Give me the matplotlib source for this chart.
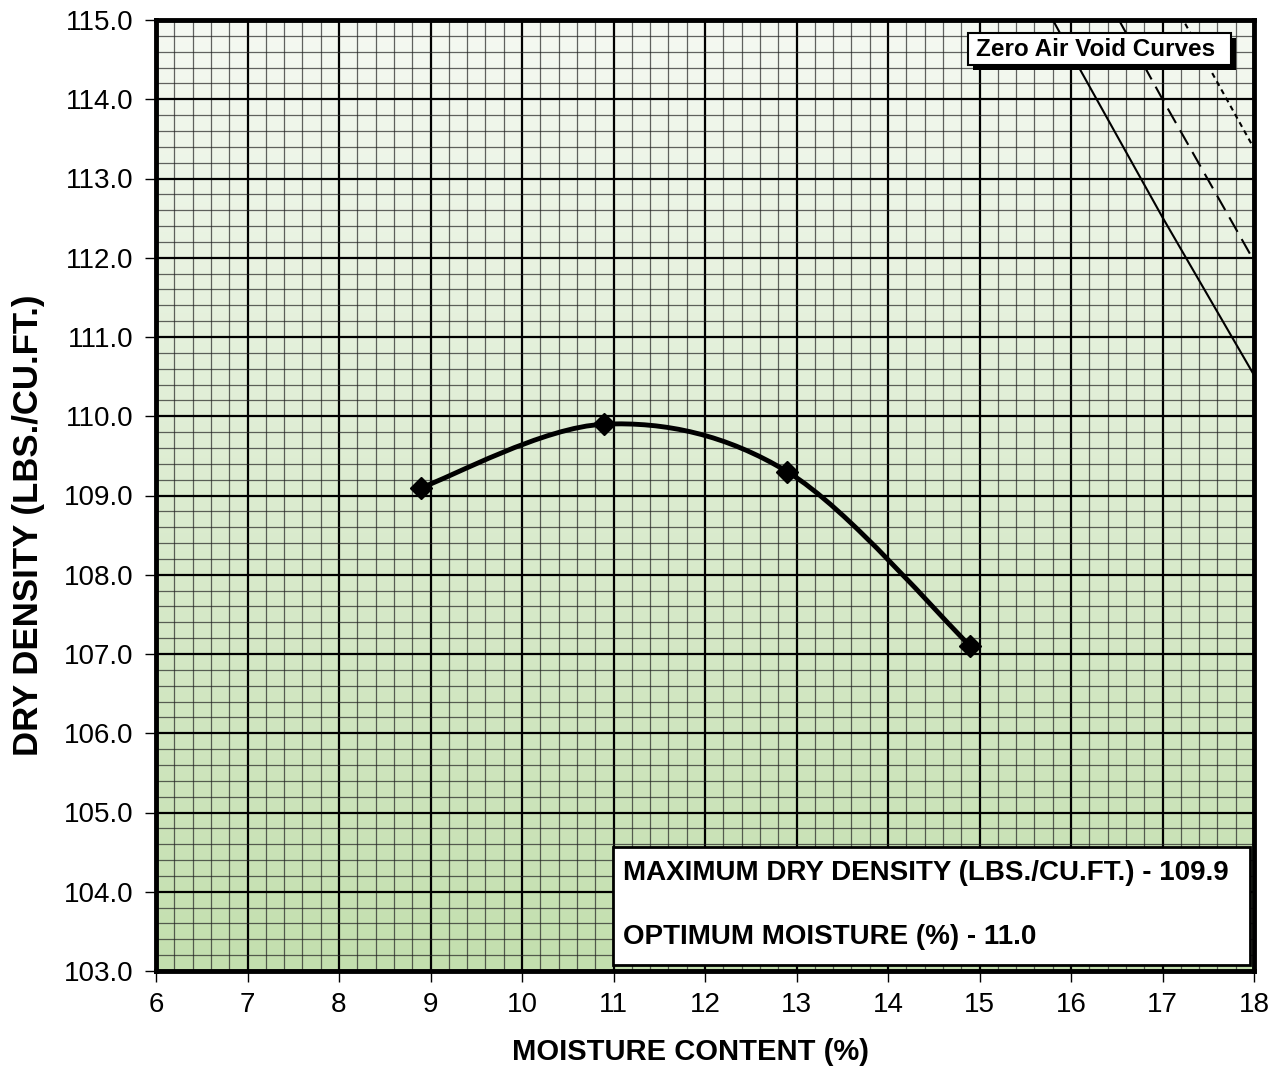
import numpy as np
import matplotlib
matplotlib.use("Agg")
import matplotlib.pyplot as plt
from matplotlib.path import Path
import matplotlib.patches as patches
from matplotlib.colors import LinearSegmentedColormap
from matplotlib.ticker import MultipleLocator, FormatStrFormatter

plt.rcParams['font.family'] = ['Liberation Sans', 'DejaVu Sans']

# test points (moisture %, dry density)
moisture = [8.9, 10.9, 12.9, 14.9]
density = [109.1, 109.9, 109.3, 107.1]

# zero air void curves
zav_solid_x = [15.5, 16.0, 17.0, 18.0]
zav_solid_y = [115.64, 114.58, 112.51, 110.52]
zav_dash_x = [16.0, 16.5, 17.0, 18.0]
zav_dash_y = [116.12, 115.05, 114.00, 111.96]
zav_dot_x = [17.0, 17.5, 18.0]
zav_dot_y = [115.48, 114.42, 113.38]

max_density = "109.9"
opt_moisture = "11.0"

fig = plt.figure(figsize=(12.79, 10.70), dpi=100)
ax = fig.add_axes([156 / 1279, 99 / 1070, 1098 / 1279, 951 / 1070])

ax.set_xlim(6, 18)
ax.set_ylim(103, 115)

# green gradient background
cmap = LinearSegmentedColormap.from_list('bg', ['#c3dfae', '#f5f9f2'])
grad = np.linspace(0, 1, 256).reshape(-1, 1)
ax.imshow(grad, cmap=cmap, aspect='auto', extent=[6, 18, 103, 115],
          origin='lower', zorder=0)

ax.xaxis.set_major_locator(MultipleLocator(1))
ax.yaxis.set_major_locator(MultipleLocator(1))
ax.xaxis.set_minor_locator(MultipleLocator(0.2))
ax.yaxis.set_minor_locator(MultipleLocator(0.2))
ax.yaxis.set_major_formatter(FormatStrFormatter('%.1f'))
ax.grid(which='major', color='black', linewidth=1.6, zorder=1)
ax.grid(which='minor', color='#222222', linewidth=0.9, alpha=0.7, zorder=1)
ax.set_axisbelow(False)
ax.tick_params(which='minor', length=0)
ax.tick_params(which='major', length=8, width=1, labelsize=20, color='black')
ax.tick_params(axis='x', pad=7)
ax.tick_params(axis='y', pad=8)

for s in ax.spines.values():
    s.set_linewidth(3.5)
    s.set_zorder(6)

# smoothed line through points (bezier like spreadsheet smoothing)
pts = np.column_stack([moisture, density])
verts = [tuple(pts[0])]
codes = [Path.MOVETO]
n = len(pts)
for i in range(n - 1):
    p0 = pts[i - 1] if i > 0 else pts[i]
    p1 = pts[i]
    p2 = pts[i + 1]
    p3 = pts[i + 2] if i + 2 < n else pts[i + 1]
    c1 = p1 + (p2 - p0) / 6.0
    c2 = p2 - (p3 - p1) / 6.0
    verts += [tuple(c1), tuple(c2), tuple(p2)]
    codes += [Path.CURVE4] * 3
curve = patches.PathPatch(Path(verts, codes), facecolor='none', edgecolor='black',
                          linewidth=3.5, zorder=4)
ax.add_patch(curve)
ax.plot(moisture, density, linestyle='none', marker='D', markersize=11,
        color='black', zorder=5)

# zero air void lines
ax.plot(zav_solid_x, zav_solid_y, color='black', linewidth=1.5, zorder=3)
ax.plot(zav_dash_x, zav_dash_y, color='black', linewidth=1.5,
        dashes=(8, 4), zorder=3)
ax.plot(zav_dot_x, zav_dot_y, color='black', linewidth=1.5,
        dashes=(2.5, 2), zorder=3)

# legend label box with shadow
bx, by, bw, bh = 0.7395, 0.9527, 0.2395, 0.0336
shadow = patches.Rectangle((bx + 0.0046, by - 0.0053), bw, bh,
                           transform=ax.transAxes, facecolor='black',
                           edgecolor='none', zorder=7)
ax.add_patch(shadow)
lbox = patches.Rectangle((bx, by), bw, bh, transform=ax.transAxes,
                         facecolor='white', edgecolor='black', linewidth=1.5,
                         zorder=7.5)
ax.add_patch(lbox)
ax.text(bx + 0.0073, by + bh / 2, "Zero Air Void Curves", transform=ax.transAxes,
        fontsize=17.5, fontweight='bold', va='center', ha='left', zorder=8)

# result box
box = patches.Rectangle((0.4162, 0.0063), 0.5801, 0.1241, transform=ax.transAxes,
                        facecolor='white', edgecolor='black', linewidth=2,
                        zorder=7)
ax.add_patch(box)
ax.text(0.4253, 0.1033, "MAXIMUM DRY DENSITY (LBS./CU.FT.) - " + max_density,
        transform=ax.transAxes, fontsize=20, fontweight='bold',
        va='center', ha='left', zorder=8)
ax.text(0.4253, 0.0360, "OPTIMUM MOISTURE (%) - " + opt_moisture,
        transform=ax.transAxes, fontsize=20, fontweight='bold',
        va='center', ha='left', zorder=8)

fig.text(691 / 1279, 1 - 1052 / 1070, "MOISTURE CONTENT (%)", fontsize=21,
         fontweight='bold', ha='center', va='center')
fig.text(29 / 1279, 1 - 525 / 1070, "DRY DENSITY (LBS./CU.FT.)", fontsize=25,
         fontweight='bold', ha='center', va='center', rotation=90)

fig.savefig("out.png", dpi=100)
